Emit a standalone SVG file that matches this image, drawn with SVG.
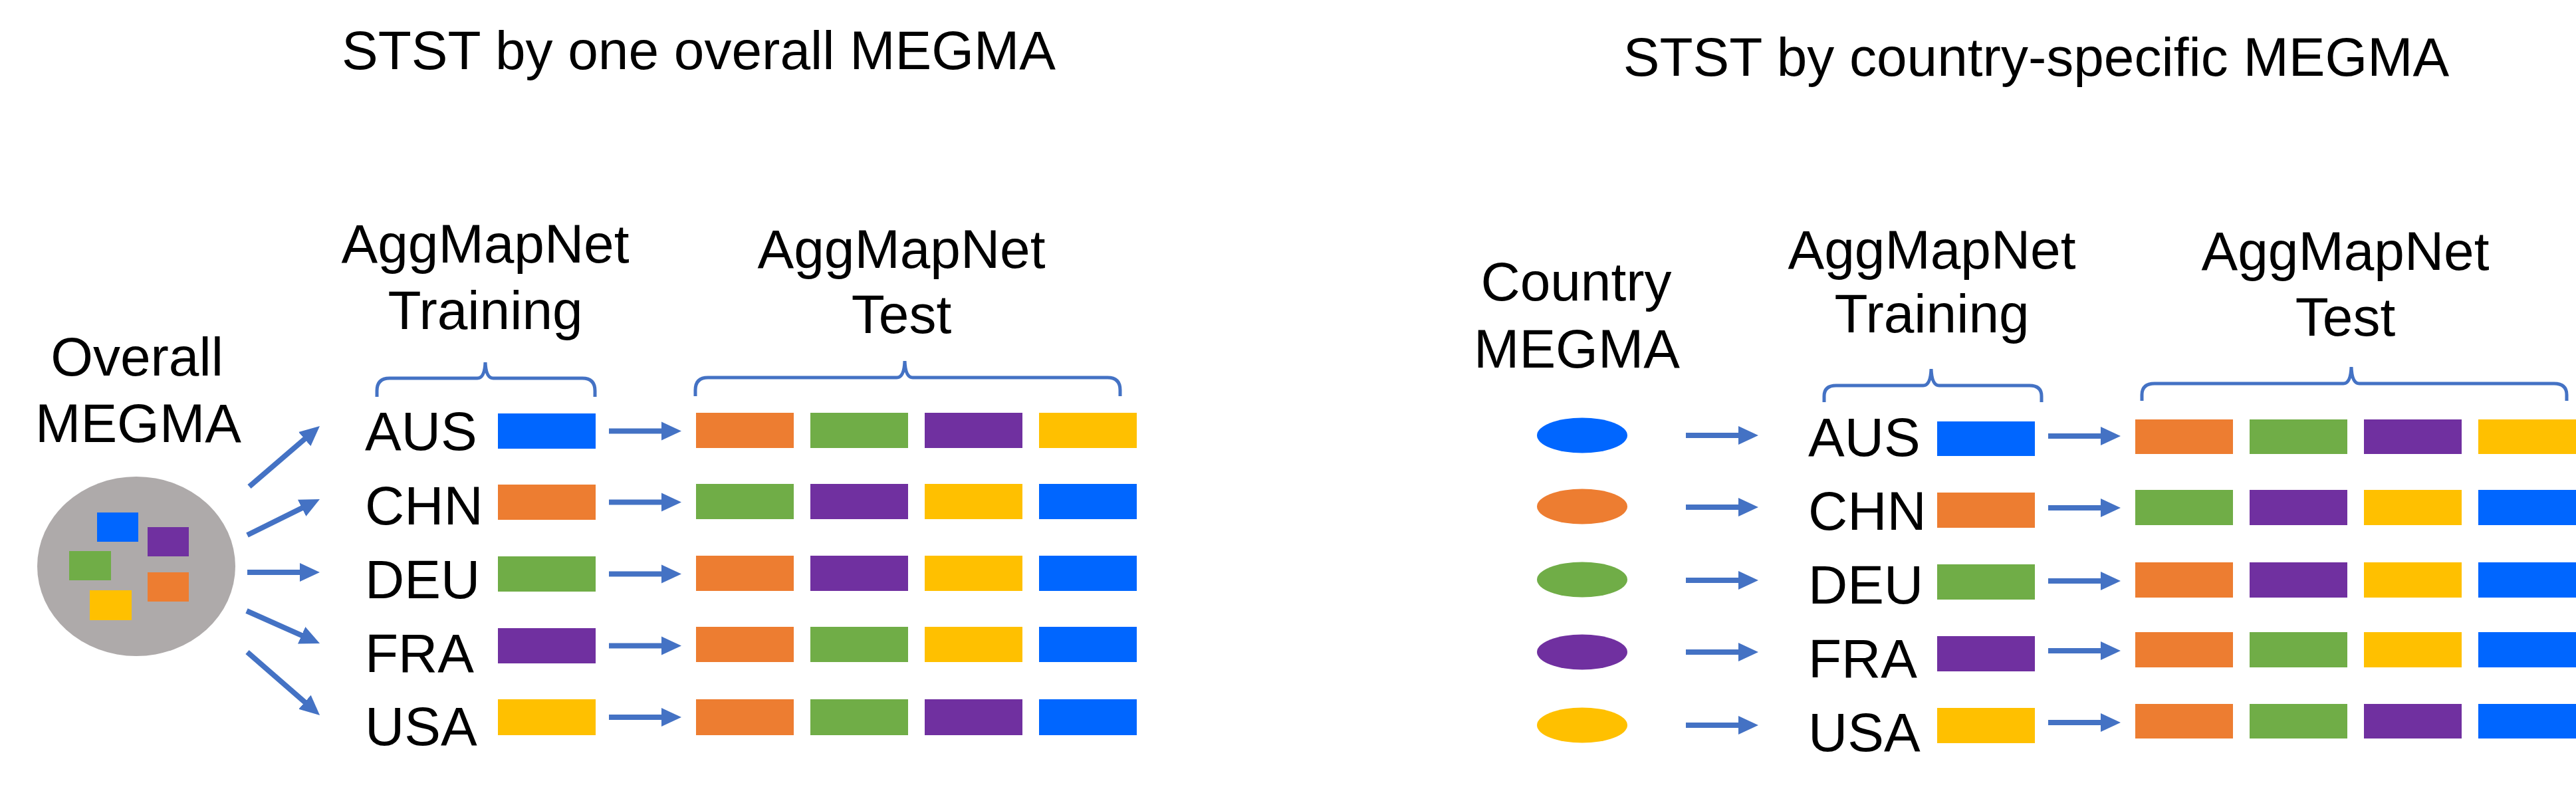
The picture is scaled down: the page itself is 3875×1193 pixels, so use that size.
<svg xmlns="http://www.w3.org/2000/svg" width="3875" height="1193" viewBox="0 0 3875 1193">
<style>
text{font-family:"Liberation Sans",Arial,sans-serif;font-size:82px;fill:#000}
.c{text-anchor:middle}
.b{fill:#0066FF}.o{fill:#ED7D31}.g{fill:#70AD47}.p{fill:#7030A0}.y{fill:#FFC000}
.br{fill:none;stroke:#4472C4;stroke-width:5}
.ar{stroke:#4472C4;stroke-width:8;fill:none;marker-end:url(#ah)}
</style>
<defs>
<marker id="ah" markerUnits="userSpaceOnUse" markerWidth="30" markerHeight="30" viewBox="0 0 30 30" refX="5" refY="15" orient="auto">
<path d="M0,1 L30,15 L0,29 Z" fill="#4472C4"/>
</marker>
</defs>
<rect width="3875" height="1193" fill="#fff"/>

<g id="title-left"><text class="c" x="1051" y="104">STST by one overall MEGMA</text></g>
<g id="title-right"><text class="c" x="3063" y="114">STST by country-specific MEGMA</text></g>

<!-- Left section -->
<g id="overall-megma">
<text class="c" x="206" y="565">Overall</text>
<text class="c" x="208" y="665">MEGMA</text>
<ellipse cx="205" cy="852" rx="149" ry="135" fill="#AEAAAA"/>
<rect class="b" x="146" y="771" width="62" height="44"/>
<rect class="p" x="222" y="793" width="62" height="44"/>
<rect class="g" x="104" y="829" width="63" height="44"/>
<rect class="o" x="222" y="861" width="62" height="44"/>
<rect class="y" x="135" y="888" width="63" height="45"/>
</g>

<g id="left-training-header">
<text class="c" x="730" y="395">AggMapNet</text>
<text class="c" x="730" y="495">Training</text>
<path class="br" d="M567,597 L567,588 Q567,569 586,569 L718,569 Q729,569 730,545 Q731,569 742,569 L876,569 Q895,569 895,588 L895,597"/>
</g>
<g id="left-test-header">
<text class="c" x="1356" y="403">AggMapNet</text>
<text class="c" x="1356" y="501">Test</text>
<path class="br" d="M1046,596 L1046,587 Q1046,568 1065,568 L1349,568 Q1360,568 1361,543 Q1362,568 1373,568 L1666,568 Q1685,568 1685,587 L1685,596"/>
</g>

<g id="left-labels">
<text x="549" y="677">AUS</text>
<text x="549" y="789">CHN</text>
<text x="549" y="900">DEU</text>
<text x="549" y="1011">FRA</text>
<text x="549" y="1121">USA</text>
</g>

<g id="left-training">
<rect class="b" x="749" y="622" width="147" height="53"/>
<rect class="o" x="749" y="729" width="147" height="53"/>
<rect class="g" x="749" y="837" width="147" height="53"/>
<rect class="p" x="749" y="945" width="147" height="53"/>
<rect class="y" x="749" y="1052" width="147" height="54"/>
</g>

<g id="left-test">
<rect class="o" x="1047" y="621" width="147" height="53"/><rect class="g" x="1219" y="621" width="147" height="53"/><rect class="p" x="1391" y="621" width="147" height="53"/><rect class="y" x="1563" y="621" width="147" height="53"/>
<rect class="g" x="1047" y="728" width="147" height="53"/><rect class="p" x="1219" y="728" width="147" height="53"/><rect class="y" x="1391" y="728" width="147" height="53"/><rect class="b" x="1563" y="728" width="147" height="53"/>
<rect class="o" x="1047" y="836" width="147" height="53"/><rect class="p" x="1219" y="836" width="147" height="53"/><rect class="y" x="1391" y="836" width="147" height="53"/><rect class="b" x="1563" y="836" width="147" height="53"/>
<rect class="o" x="1047" y="943" width="147" height="53"/><rect class="g" x="1219" y="943" width="147" height="53"/><rect class="y" x="1391" y="943" width="147" height="53"/><rect class="b" x="1563" y="943" width="147" height="53"/>
<rect class="o" x="1047" y="1052" width="147" height="54"/><rect class="g" x="1219" y="1052" width="147" height="54"/><rect class="p" x="1391" y="1052" width="147" height="54"/><rect class="b" x="1563" y="1052" width="147" height="54"/>
</g>

<!-- Right section -->
<g id="country-megma">
<text class="c" x="2371" y="452">Country</text>
<text class="c" x="2372" y="553">MEGMA</text>
<ellipse class="b" cx="2380" cy="655" rx="68" ry="26.5"/>
<ellipse class="o" cx="2380" cy="762" rx="68" ry="26.5"/>
<ellipse class="g" cx="2380" cy="872" rx="68" ry="26.5"/>
<ellipse class="p" cx="2380" cy="981" rx="68" ry="26.5"/>
<ellipse class="y" cx="2380" cy="1091" rx="68" ry="26.5"/>
</g>

<g id="right-training-header">
<text class="c" x="2906" y="404">AggMapNet</text>
<text class="c" x="2906" y="500">Training</text>
<path class="br" d="M2744,605 L2744,596 Q2744,580 2762,580 L2893,580 Q2904,580 2905,555 Q2906,580 2917,580 L3053,580 Q3071,580 3071,596 L3071,605"/>
</g>
<g id="right-test-header">
<text class="c" x="3528" y="406">AggMapNet</text>
<text class="c" x="3528" y="505">Test</text>
<path class="br" d="M3222,603 L3222,594 Q3222,577 3241,577 L3525,577 Q3536,577 3537,552 Q3538,577 3549,577 L3842,577 Q3861,577 3861,594 L3861,603"/>
</g>

<g id="right-labels">
<text x="2720" y="686">AUS</text>
<text x="2720" y="797">CHN</text>
<text x="2720" y="908">DEU</text>
<text x="2720" y="1019">FRA</text>
<text x="2720" y="1130">USA</text>
</g>

<g id="right-training">
<rect class="b" x="2914" y="634" width="147" height="52"/>
<rect class="o" x="2914" y="741" width="147" height="53"/>
<rect class="g" x="2914" y="849" width="147" height="53"/>
<rect class="p" x="2914" y="957" width="147" height="53"/>
<rect class="y" x="2914" y="1065" width="147" height="53"/>
</g>

<g id="right-test">
<rect class="o" x="3212" y="631" width="147" height="52"/><rect class="g" x="3384" y="631" width="147" height="52"/><rect class="p" x="3556" y="631" width="147" height="52"/><rect class="y" x="3728" y="631" width="147" height="52"/>
<rect class="g" x="3212" y="737" width="147" height="53"/><rect class="p" x="3384" y="737" width="147" height="53"/><rect class="y" x="3556" y="737" width="147" height="53"/><rect class="b" x="3728" y="737" width="147" height="53"/>
<rect class="o" x="3212" y="846" width="147" height="53"/><rect class="p" x="3384" y="846" width="147" height="53"/><rect class="y" x="3556" y="846" width="147" height="53"/><rect class="b" x="3728" y="846" width="147" height="53"/>
<rect class="o" x="3212" y="951" width="147" height="53"/><rect class="g" x="3384" y="951" width="147" height="53"/><rect class="y" x="3556" y="951" width="147" height="53"/><rect class="b" x="3728" y="951" width="147" height="53"/>
<rect class="o" x="3212" y="1059" width="147" height="52"/><rect class="g" x="3384" y="1059" width="147" height="52"/><rect class="p" x="3556" y="1059" width="147" height="52"/><rect class="b" x="3728" y="1059" width="147" height="52"/>
</g>

<g id="connectors">
<line class="ar" x1="375" y1="732" x2="462" y2="657.3"/>
<line class="ar" x1="372" y1="805" x2="458.6" y2="762.1"/>
<line class="ar" x1="372" y1="861" x2="456" y2="861"/>
<line class="ar" x1="371" y1="919" x2="458.2" y2="957.8"/>
<line class="ar" x1="372" y1="981" x2="462.2" y2="1059.6"/>

<line class="ar" x1="916" y1="648.5" x2="1000" y2="648.5"/>
<line class="ar" x1="916" y1="755.5" x2="1000" y2="755.5"/>
<line class="ar" x1="916" y1="863.5" x2="1000" y2="863.5"/>
<line class="ar" x1="916" y1="971.5" x2="1000" y2="971.5"/>
<line class="ar" x1="916" y1="1079" x2="1000" y2="1079"/>

<line class="ar" x1="2536" y1="655" x2="2620" y2="655"/>
<line class="ar" x1="2536" y1="763" x2="2620" y2="763"/>
<line class="ar" x1="2536" y1="873" x2="2620" y2="873"/>
<line class="ar" x1="2536" y1="981" x2="2620" y2="981"/>
<line class="ar" x1="2536" y1="1091" x2="2620" y2="1091"/>

<line class="ar" x1="3081" y1="656" x2="3165" y2="656"/>
<line class="ar" x1="3081" y1="764" x2="3165" y2="764"/>
<line class="ar" x1="3081" y1="874" x2="3165" y2="874"/>
<line class="ar" x1="3081" y1="979" x2="3165" y2="979"/>
<line class="ar" x1="3081" y1="1087" x2="3165" y2="1087"/>
</g>
</svg>
